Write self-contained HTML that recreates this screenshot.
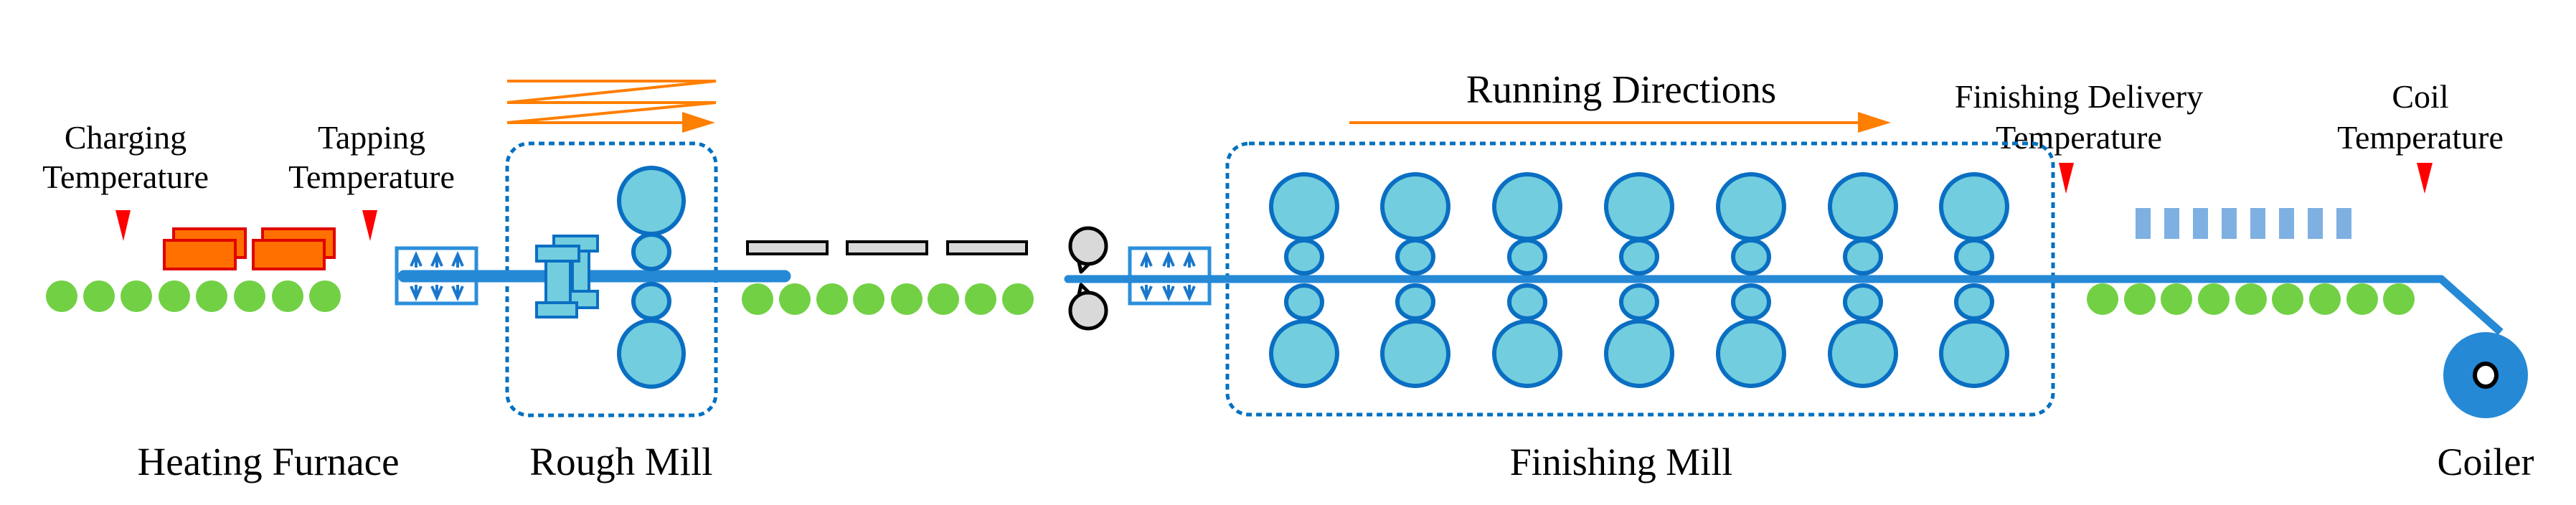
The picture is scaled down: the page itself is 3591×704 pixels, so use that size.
<!DOCTYPE html>
<html><head><meta charset="utf-8"><style>
html,body{margin:0;padding:0;background:#fff;}
svg{display:block;}
text{font-family:"Liberation Serif",serif;fill:#000;}
</style></head><body>
<svg width="3591" height="704" viewBox="0 0 3591 704" xmlns="http://www.w3.org/2000/svg">
<defs>
<g id="up"><line x1="0" y1="2" x2="0" y2="20" stroke="#1a78cc" stroke-width="4"/><polyline points="-7,18 0,2 7,18" fill="none" stroke="#1a78cc" stroke-width="4"/></g>
<g id="dn"><line x1="0" y1="0" x2="0" y2="18" stroke="#1a78cc" stroke-width="4"/><polyline points="-7,2 0,18 7,2" fill="none" stroke="#1a78cc" stroke-width="4"/></g>
<g id="stand" fill="#72CDDE" stroke="#0A6FC2" stroke-width="6">
<ellipse cx="0" cy="288" rx="46" ry="45"/>
<ellipse cx="0" cy="493" rx="46" ry="45"/>
<ellipse cx="0" cy="358" rx="25" ry="23"/>
<ellipse cx="0" cy="421" rx="25" ry="23"/>
</g>
</defs>

<!-- Top labels -->
<text x="175" y="207" font-size="46" text-anchor="middle">Charging</text>
<text x="175" y="262" font-size="46" text-anchor="middle">Temperature</text>
<text x="518" y="207" font-size="46" text-anchor="middle">Tapping</text>
<text x="518" y="262" font-size="46" text-anchor="middle">Temperature</text>
<text x="2260" y="143" font-size="55" text-anchor="middle">Running Directions</text>
<text x="2898" y="150" font-size="46" text-anchor="middle">Finishing Delivery</text>
<text x="2898" y="207" font-size="46" text-anchor="middle">Temperature</text>
<text x="3374" y="150" font-size="46" text-anchor="middle">Coil</text>
<text x="3374" y="207" font-size="46" text-anchor="middle">Temperature</text>

<!-- Bottom labels -->
<text x="374" y="662" font-size="55" text-anchor="middle">Heating Furnace</text>
<text x="866" y="662" font-size="55" text-anchor="middle">Rough Mill</text>
<text x="2260" y="662" font-size="54" text-anchor="middle">Finishing Mill</text>
<text x="3465" y="662" font-size="54" text-anchor="middle">Coiler</text>

<!-- red triangles -->
<g fill="#FF0000">
<polygon points="161,293 182,293 172,336"/>
<polygon points="505,293 526,293 516,336"/>
<polygon points="2870,227 2891,227 2880,270"/>
<polygon points="3369,227 3391,227 3380,270"/>
</g>

<!-- orange zigzag -->
<g stroke="#FF7F00" stroke-width="4" fill="none">
<polyline points="707,113 998,113 707,143 998,143 707,171 955,171"/>
<line x1="1881" y1="171" x2="2600" y2="171"/>
</g>
<polygon points="951,156 997,171 951,185" fill="#FF7F00"/>
<polygon points="2590,156 2636,171 2590,185" fill="#FF7F00"/>

<!-- furnace slabs -->
<g fill="#FF7000" stroke="#E00000" stroke-width="4">
<rect x="242" y="319" width="100" height="40"/>
<rect x="229" y="335" width="99" height="40"/>
<rect x="366" y="319" width="100" height="40"/>
<rect x="353" y="335" width="99" height="40"/>
</g>

<!-- green rollers -->
<g fill="#72D044">
<ellipse cx="86" cy="413" rx="22" ry="22"/><ellipse cx="138" cy="413" rx="22" ry="22"/><ellipse cx="190" cy="413" rx="22" ry="22"/><ellipse cx="243" cy="413" rx="22" ry="22"/><ellipse cx="295" cy="413" rx="22" ry="22"/><ellipse cx="348" cy="413" rx="22" ry="22"/><ellipse cx="401" cy="413" rx="22" ry="22"/><ellipse cx="453" cy="413" rx="22" ry="22"/>
<ellipse cx="1056" cy="417" rx="22" ry="22"/><ellipse cx="1108" cy="417" rx="22" ry="22"/><ellipse cx="1160" cy="417" rx="22" ry="22"/><ellipse cx="1211" cy="417" rx="22" ry="22"/><ellipse cx="1264" cy="417" rx="22" ry="22"/><ellipse cx="1315" cy="417" rx="22" ry="22"/><ellipse cx="1367" cy="417" rx="22" ry="22"/><ellipse cx="1419" cy="417" rx="22" ry="22"/>
<ellipse cx="2931" cy="417" rx="22" ry="22"/><ellipse cx="2983" cy="417" rx="22" ry="22"/><ellipse cx="3034" cy="417" rx="22" ry="22"/><ellipse cx="3086" cy="417" rx="22" ry="22"/><ellipse cx="3138" cy="417" rx="22" ry="22"/><ellipse cx="3189" cy="417" rx="22" ry="22"/><ellipse cx="3241" cy="417" rx="22" ry="22"/><ellipse cx="3293" cy="417" rx="22" ry="22"/><ellipse cx="3344" cy="417" rx="22" ry="22"/>
</g>

<!-- descaler boxes -->
<rect x="553" y="346" width="111" height="77" fill="#fff" stroke="#2B8FDB" stroke-width="5"/>
<rect x="1575" y="346" width="111" height="77" fill="#fff" stroke="#2B8FDB" stroke-width="5"/>

<!-- dotted boxes -->
<rect x="707" y="200" width="291" height="379" rx="30" fill="none" stroke="#0070C0" stroke-width="5" stroke-dasharray="8,6"/>
<rect x="1711" y="200" width="1151" height="378" rx="30" fill="none" stroke="#0070C0" stroke-width="5" stroke-dasharray="8,6"/>

<!-- strips -->
<line x1="563" y1="385" x2="1094" y2="385" stroke="#2589D6" stroke-width="17" stroke-linecap="round"/>
<polyline points="1489,389 3403,389 3486,463" fill="none" stroke="#2589D6" stroke-width="11"/>
<circle cx="1489" cy="389" r="5.5" fill="#2589D6"/>

<!-- descaler arrows -->
<use href="#up" x="580" y="353"/><use href="#up" x="609" y="353"/><use href="#up" x="638" y="353"/>
<use href="#dn" x="580" y="397"/><use href="#dn" x="609" y="397"/><use href="#dn" x="638" y="397"/>
<use href="#up" x="1598" y="353"/><use href="#up" x="1629" y="353"/><use href="#up" x="1658" y="353"/>
<use href="#dn" x="1598" y="397"/><use href="#dn" x="1629" y="397"/><use href="#dn" x="1658" y="397"/>

<!-- edger -->
<g fill="#72CDDE" stroke="#0A6FC2" stroke-width="4">
<rect x="798" y="340" width="23" height="80"/>
<rect x="772" y="329" width="61" height="21"/>
<rect x="772" y="406" width="61" height="23"/>
<rect x="761" y="362" width="34" height="60"/>
<rect x="748" y="343" width="59" height="21"/>
<rect x="748" y="422" width="56" height="20"/>
</g>

<!-- rough mill rolls -->
<g fill="#72CDDE" stroke="#0A6FC2" stroke-width="6">
<ellipse cx="908" cy="280" rx="45" ry="46"/>
<ellipse cx="908" cy="493" rx="45" ry="46"/>
<ellipse cx="908" cy="351" rx="25" ry="24"/>
<ellipse cx="908" cy="420" rx="25" ry="24"/>
</g>

<!-- finishing stands -->
<use href="#stand" x="1818"/><use href="#stand" x="1973"/><use href="#stand" x="2129"/><use href="#stand" x="2285"/><use href="#stand" x="2441"/><use href="#stand" x="2597"/><use href="#stand" x="2752"/>

<!-- grey bars -->
<g fill="#D9D9D9" stroke="#000" stroke-width="4">
<rect x="1042" y="337" width="111" height="17"/>
<rect x="1181" y="337" width="111" height="17"/>
<rect x="1321" y="337" width="110" height="17"/>
</g>

<!-- shear -->
<g fill="#fff" stroke="#000" stroke-width="5" stroke-linejoin="round">
<polygon points="1507,379 1502,356 1522,364"/>
<polygon points="1507,397 1502,420 1522,412"/>
</g>
<g fill="#D9D9D9" stroke="#000" stroke-width="5">
<circle cx="1517" cy="343" r="25"/>
<circle cx="1517" cy="433" r="25"/>
</g>

<!-- cooling bars -->
<g fill="#7EB0E2">
<rect x="2977" y="290" width="21" height="43"/><rect x="3017" y="290" width="21" height="43"/><rect x="3057" y="290" width="21" height="43"/><rect x="3097" y="290" width="21" height="43"/><rect x="3137" y="290" width="21" height="43"/><rect x="3177" y="290" width="21" height="43"/><rect x="3217" y="290" width="21" height="43"/><rect x="3257" y="290" width="21" height="43"/>
</g>

<!-- coiler -->
<ellipse cx="3465" cy="523" rx="59" ry="60" fill="#2589D6"/>
<ellipse cx="3465" cy="523" rx="15" ry="16" fill="#fff" stroke="#000" stroke-width="6"/>
</svg>
</body></html>
